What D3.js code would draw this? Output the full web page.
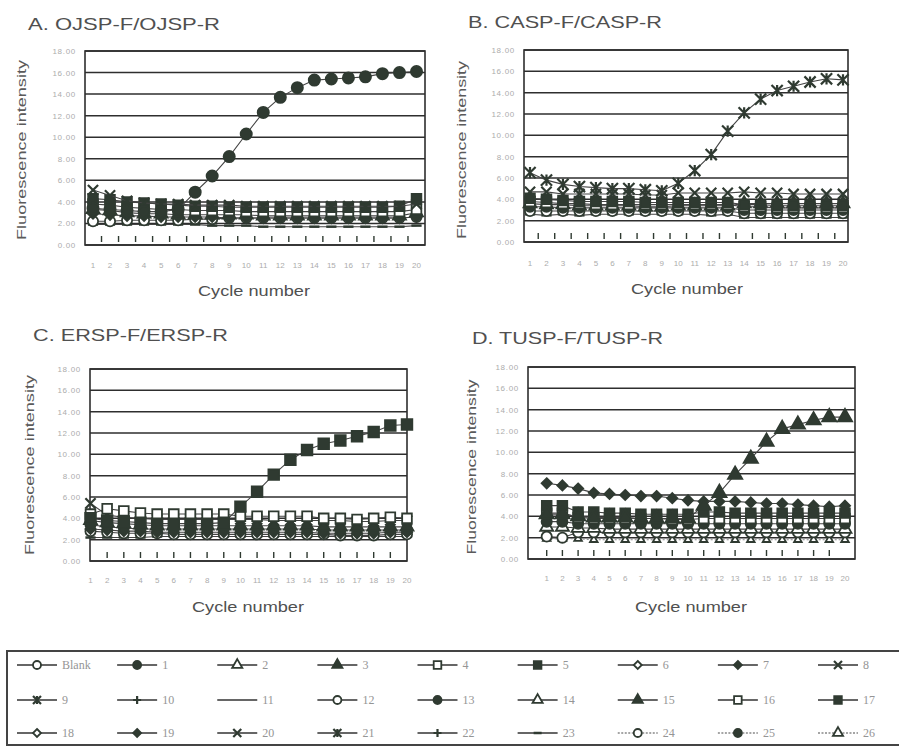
<!DOCTYPE html>
<html>
<head>
<meta charset="utf-8">
<script src="https://cdn.jsdelivr.net/npm/d3@7"></script>
<style>
  body { margin: 0; background: #fff; }
  svg { display: block; font-family: "Liberation Sans", Arial, sans-serif; }
</style>
</head>
<body>
<svg id="viz" width="899" height="746"></svg>
<script>
// ---- data ----
const cycles = [1, 2, 3, 4, 5, 6, 7, 8, 9, 10, 11, 12, 13, 14, 15, 16, 17, 18, 19, 20];
const yTickValues = [0, 2, 4, 6, 8, 10, 12, 14, 16, 18];

const legendLabels = ["Blank", "1", "2", "3", "4", "5", "6", "7", "8", "9", "10", "11", "12", "13",
  "14", "15", "16", "17", "18", "19", "20", "21", "22", "23", "24", "25", "26"];
const legendMarkers = ["circleOpen", "circle", "triOpen", "tri", "squareOpen", "square", "diamondOpen", "diamond", "x",
  "star", "plus", "none", "circleOpen", "circle", "triOpen", "tri", "squareOpen", "square",
  "diamondOpen", "diamond", "x", "star", "plus", "dash", "circleOpen", "circle", "triOpen"];
const dottedSeries = ["24", "25", "26"];

// A. OJSP-F/OJSP-R
const ojsp1 = [3.4, 3.3, 3.2, 3.1, 3.1, 3.3, 4.9, 6.4, 8.2, 10.3, 12.3, 13.7, 14.6, 15.3, 15.4, 15.5, 15.6, 15.9, 16.0, 16.1];
const ojsp8 = [5.1, 4.6, 4.1, 3.9, 3.8, 3.8, 3.7, 3.7, 3.7, 3.6, 3.6, 3.6, 3.6, 3.6, 3.6, 3.6, 3.6, 3.6, 3.6, 3.8];
const ojsp5 = [4.3, 4.2, 4.0, 3.9, 3.8, 3.7, 3.6, 3.6, 3.5, 3.5, 3.5, 3.5, 3.5, 3.5, 3.5, 3.5, 3.5, 3.5, 3.6, 4.3];
const ojsp4 = [3.8, 3.7, 3.5, 3.4, 3.3, 3.3, 3.2, 3.2, 3.2, 3.1, 3.1, 3.1, 3.1, 3.1, 3.1, 3.1, 3.1, 3.1, 3.1, 3.3];
const ojsp3 = [3.3, 3.2, 3.0, 2.9, 2.9, 2.8, 2.8, 2.8, 2.8, 2.8, 2.7, 2.7, 2.7, 2.7, 2.7, 2.7, 2.7, 2.7, 2.7, 3.0];
const ojsp7 = [2.9, 2.8, 2.7, 2.7, 2.6, 2.6, 2.6, 2.6, 2.5, 2.5, 2.5, 2.5, 2.5, 2.5, 2.5, 2.5, 2.5, 2.5, 2.5, 2.6];
const ojspBlank = [2.2, 2.2, 2.3, 2.3, 2.3, 2.3, 2.4, 2.4, 2.5, 2.5, 2.5, 2.5, 2.5, 2.5, 2.5, 2.5, 2.5, 2.5, 2.5, 2.6];
const ojsp23 = [1.9, 1.9, 1.9, 1.9, 1.9, 1.9, 1.9, 1.8, 1.8, 1.8, 1.7, 1.7, 1.7, 1.7, 1.7, 1.7, 1.7, 1.7, 1.7, 1.8];

// B. CASP-F/CASP-R
const casp9 = [6.5, 5.8, 5.4, 5.2, 5.1, 5.0, 5.0, 4.9, 4.8, 5.5, 6.7, 8.2, 10.4, 12.1, 13.4, 14.2, 14.6, 15.0, 15.3, 15.2];
const casp20 = [4.7, 4.7, 4.5, 4.5, 4.5, 4.5, 4.5, 4.4, 4.4, 4.6, 4.6, 4.6, 4.6, 4.7, 4.6, 4.6, 4.5, 4.5, 4.5, 4.5];
const casp17 = [4.1, 4.0, 3.9, 3.8, 3.8, 3.8, 3.8, 3.7, 3.7, 3.7, 3.7, 3.7, 3.7, 3.5, 3.5, 3.4, 3.4, 3.4, 3.4, 3.4];
const casp16 = [3.8, 3.7, 3.6, 3.6, 3.5, 3.5, 3.5, 3.5, 3.5, 3.5, 3.5, 3.5, 3.5, 3.3, 3.3, 3.2, 3.2, 3.2, 3.2, 3.2];
const casp15 = [3.6, 3.5, 3.5, 3.4, 3.4, 3.4, 3.4, 3.3, 3.3, 3.4, 3.4, 3.4, 3.4, 3.6, 3.6, 3.6, 3.6, 3.6, 3.6, 3.6];
const casp13 = [3.3, 3.3, 3.2, 3.2, 3.2, 3.2, 3.2, 3.2, 3.2, 3.2, 3.2, 3.2, 3.2, 3.0, 3.0, 3.0, 3.0, 3.0, 3.0, 3.0];
const caspBlank = [2.9, 2.9, 2.9, 2.9, 2.9, 2.9, 2.9, 2.9, 2.9, 2.9, 2.9, 2.9, 2.9, 2.7, 2.7, 2.7, 2.7, 2.7, 2.7, 2.7];
const casp23 = [2.6, 2.5, 2.6, 2.5, 2.6, 2.6, 2.6, 2.6, 2.6, 2.6, 2.6, 2.5, 2.6, 2.3, 2.3, 2.3, 2.3, 2.3, 2.3, 2.3];

// C. ERSP-F/ERSP-R
const ersp17 = [4.0, 3.8, 3.7, 3.6, 3.5, 3.5, 3.5, 3.5, 3.6, 5.1, 6.5, 8.1, 9.5, 10.4, 11.0, 11.3, 11.7, 12.1, 12.7, 12.8];
const ersp16 = [4.4, 4.9, 4.7, 4.5, 4.4, 4.4, 4.4, 4.4, 4.4, 4.2, 4.2, 4.2, 4.2, 4.2, 4.0, 4.0, 3.9, 4.0, 4.1, 4.0];
const ersp20 = [5.4, 4.3, 4.1, 4.0, 3.9, 3.9, 3.9, 3.9, 3.9, 3.9, 3.9, 3.8, 3.8, 3.8, 3.8, 3.8, 3.7, 3.7, 3.8, 3.8];
const ersp15 = [3.8, 3.6, 3.5, 3.4, 3.3, 3.3, 3.3, 3.3, 3.3, 3.3, 3.3, 3.3, 3.3, 3.3, 3.2, 3.2, 3.2, 3.2, 3.2, 3.2];
const ersp13 = [3.4, 3.2, 3.1, 3.0, 3.0, 3.0, 3.0, 3.0, 3.0, 3.0, 3.0, 3.0, 3.0, 3.0, 2.9, 2.9, 2.9, 2.9, 2.9, 2.9];
const ersp19 = [3.0, 2.9, 2.8, 2.8, 2.7, 2.7, 2.7, 2.7, 2.7, 2.7, 2.7, 2.7, 2.7, 2.7, 2.6, 2.6, 2.6, 2.6, 2.7, 2.7];
const erspBlank = [2.8, 2.7, 2.6, 2.6, 2.6, 2.5, 2.5, 2.5, 2.5, 2.5, 2.5, 2.5, 2.5, 2.5, 2.5, 2.4, 2.4, 2.4, 2.5, 2.5];
const ersp23 = [2.2, 2.2, 2.2, 2.2, 2.3, 2.3, 2.3, 2.3, 2.3, 2.3, 2.3, 2.3, 2.3, 2.3, 2.3, 2.3, 2.3, 2.3, 2.3, 2.3];

// D. TUSP-F/TUSP-R
const tusp15 = [4.2, 4.2, 4.0, 3.9, 3.9, 3.9, 3.8, 3.8, 3.8, 3.8, 5.0, 6.2, 7.9, 9.4, 11.0, 12.2, 12.6, 13.0, 13.3, 13.3];
const tusp19 = [7.1, 6.9, 6.6, 6.2, 6.1, 6.0, 5.9, 5.9, 5.7, 5.5, 5.4, 5.4, 5.4, 5.3, 5.2, 5.2, 5.1, 5.0, 4.9, 5.0];
const tusp17 = [5.0, 5.0, 4.4, 4.4, 4.3, 4.3, 4.2, 4.2, 4.2, 4.2, 4.4, 4.4, 4.3, 4.3, 4.3, 4.3, 4.3, 4.3, 4.3, 4.3];
const tusp16 = [4.3, 4.3, 3.9, 3.8, 3.8, 3.8, 3.8, 3.8, 3.7, 3.7, 3.8, 3.8, 3.8, 3.8, 3.8, 3.8, 3.8, 3.8, 3.8, 3.8];
const tusp13 = [3.5, 3.5, 3.3, 3.3, 3.3, 3.3, 3.3, 3.3, 3.3, 3.3, 3.3, 3.3, 3.3, 3.3, 3.3, 3.3, 3.3, 3.3, 3.3, 3.3];
const tusp14 = [3.0, 3.0, 2.9, 2.9, 2.8, 2.8, 2.8, 2.8, 2.8, 2.8, 2.8, 2.8, 2.8, 2.8, 2.8, 2.8, 2.8, 2.8, 2.8, 2.8];
const tuspBlank = [2.1, 2.0, 2.5, 2.5, 2.5, 2.5, 2.5, 2.5, 2.5, 2.5, 2.5, 2.5, 2.5, 2.5, 2.5, 2.5, 2.5, 2.5, 2.5, 2.5];
const tusp26 = [1.9, 1.9, 1.9, 1.8, 1.8, 1.8, 1.8, 1.8, 1.8, 1.8, 1.8, 1.8, 1.8, 1.8, 1.8, 1.8, 1.8, 1.8, 1.8, 1.8];

// ---- layout ----
const MARK = "#2f3a31";
const GRID = "#2e2e2e";

const panels = [
  {
    title: "A. OJSP-F/OJSP-R", titleX: 28, titleY: 30, titleW: 192,
    left: 85, right: 425, top: 51, bottom: 245, xFirst: 93, xLast: 416.5,
    tickCycles: cycles.slice(0, 19), tickShift: 0.5,
    ylabX: 26, ylabY: 150, ylabW: 180, xTickY: 268, xlabX: 254, xlabY: 296,
    series: [["23", ojsp23], ["Blank", ojspBlank], ["7", ojsp7], ["3", ojsp3], ["4", ojsp4], ["5", ojsp5], ["8", ojsp8], ["1", ojsp1]]
  },
  {
    title: "B. CASP-F/CASP-R", titleX: 468, titleY: 28, titleW: 194,
    left: 524, right: 848, top: 50, bottom: 242, xFirst: 530, xLast: 843,
    tickCycles: cycles.slice(0, 19), tickShift: 0.5,
    ylabX: 466, ylabY: 150, ylabW: 178, xTickY: 266, xlabX: 687, xlabY: 294,
    series: [["23", casp23], ["Blank", caspBlank], ["13", casp13], ["15", casp15], ["16", casp16], ["17", casp17], ["20", casp20], ["9", casp9]]
  },
  {
    title: "C. ERSP-F/ERSP-R", titleX: 33, titleY: 341, titleW: 195,
    left: 90, right: 407, top: 369, bottom: 561, xFirst: 90.5, xLast: 407,
    tickCycles: cycles.slice(1, 19), tickShift: 0,
    ylabX: 34, ylabY: 465, ylabW: 180, xTickY: 583, xlabX: 248, xlabY: 612,
    series: [["23", ersp23], ["Blank", erspBlank], ["19", ersp19], ["13", ersp13], ["15", ersp15], ["20", ersp20], ["16", ersp16], ["17", ersp17]]
  },
  {
    title: "D. TUSP-F/TUSP-R", titleX: 472, titleY: 344, titleW: 191,
    left: 528, right: 855, top: 367, bottom: 559, xFirst: 546.7, xLast: 845,
    tickCycles: cycles.slice(0, 19), tickShift: 0,
    ylabX: 476, ylabY: 467, ylabW: 175, xTickY: 581, xlabX: 691, xlabY: 612,
    series: [["26", tusp26], ["Blank", tuspBlank], ["14", tusp14], ["13", tusp13], ["16", tusp16], ["17", tusp17], ["19", tusp19], ["15", tusp15]]
  }
];

const svg = d3.select("#viz");

const markerOf = key => legendMarkers[legendLabels.indexOf(key)];

// path for one marker shape, r = half width
const markerPath = (type, r) => {
  switch (type) {
    case "circle": case "circleOpen": return d3.symbol(d3.symbolCircle, Math.PI * r * r)();
    case "square": case "squareOpen": return d3.symbol(d3.symbolSquare, 3.6 * r * r)();
    case "tri": case "triOpen": return d3.symbol(d3.symbolTriangle, 2.8 * r * r)();
    case "diamond": case "diamondOpen": return `M0,${-r}L${r},0L0,${r}L${-r},0Z`;
    case "x": return `M${-r},${-r}L${r},${r}M${-r},${r}L${r},${-r}`;
    case "star": return `M${-r},${-r}L${r},${r}M${-r},${r}L${r},${-r}M0,${-r}V${r}`;
    case "plus": return `M${-r},0H${r}M0,${-r}V${r}`;
    case "dash": return `M${-r},0H${r}`;
    default: return null;
  }
};

const styleMarker = (sel, type) => {
  const strokeOnly = ["x", "star", "plus", "dash"].includes(type);
  sel.attr("fill", strokeOnly ? "none" : (type.endsWith("Open") ? "#fff" : MARK))
    .attr("stroke", MARK)
    .attr("stroke-width", strokeOnly ? (type === "dash" ? 2.5 : 2.2) : 1.8);
};

function drawPanel(p) {
  const g = svg.append("g");
  const x = d3.scaleLinear().domain([1, 20]).range([p.xFirst, p.xLast]);
  const y = d3.scaleLinear().domain([0, 18]).range([p.bottom, p.top]);

  g.append("text")
    .attr("x", p.titleX).attr("y", p.titleY)
    .attr("font-size", 17).attr("fill", "#505050")
    .attr("textLength", p.titleW).attr("lengthAdjust", "spacingAndGlyphs")
    .text(p.title);

  // horizontal gridlines
  g.selectAll(".grid").data(yTickValues).join("line")
    .attr("x1", p.left).attr("x2", p.right)
    .attr("y1", d => y(d)).attr("y2", d => y(d))
    .attr("stroke", GRID).attr("stroke-width", 1.5);

  g.append("rect")
    .attr("x", p.left).attr("y", p.top)
    .attr("width", p.right - p.left).attr("height", p.bottom - p.top)
    .attr("fill", "none").attr("stroke", GRID).attr("stroke-width", 1.6);

  // small category tick marks just above the axis
  g.selectAll(".ctick").data(p.tickCycles).join("line")
    .attr("x1", d => x(d + p.tickShift)).attr("x2", d => x(d + p.tickShift))
    .attr("y1", p.bottom - 9).attr("y2", p.bottom - 3)
    .attr("stroke", MARK).attr("stroke-width", 1.4);

  // y tick labels
  g.selectAll(".ylab").data(yTickValues).join("text")
    .attr("x", p.left - 9).attr("y", d => y(d) + 3)
    .attr("text-anchor", "end").attr("font-size", 8).attr("fill", "#acacac")
    .style("letter-spacing", "0.7px")
    .text(d => d3.format(".2f")(d));

  // x tick labels
  g.selectAll(".xlab").data(cycles).join("text")
    .attr("x", d => x(d)).attr("y", p.xTickY)
    .attr("text-anchor", "middle").attr("font-size", 8).attr("fill", "#acacac")
    .text(d => d);

  g.append("text")
    .attr("transform", `translate(${p.ylabX},${p.ylabY}) rotate(-90)`)
    .attr("text-anchor", "middle").attr("font-size", 13).attr("fill", "#5a5a5a")
    .attr("textLength", p.ylabW).attr("lengthAdjust", "spacingAndGlyphs")
    .text("Fluorescence intensity");

  g.append("text")
    .attr("x", p.xlabX).attr("y", p.xlabY)
    .attr("text-anchor", "middle").attr("font-size", 15).attr("fill", "#505050")
    .attr("textLength", 112).attr("lengthAdjust", "spacingAndGlyphs")
    .text("Cycle number");

  const line = d3.line().x((d, i) => x(cycles[i])).y(d => y(d));
  const lastKey = p.series[p.series.length - 1][0];

  p.series.forEach(([key, values]) => {
    const type = markerOf(key);
    const dotted = dottedSeries.includes(key);
    g.append("path")
      .attr("d", line(values))
      .attr("fill", "none")
      .attr("stroke", dotted ? "#888" : "#444")
      .attr("stroke-width", 1.1)
      .attr("stroke-dasharray", dotted ? "2,2" : null);
    if (type === "none") return;
    const r = key === "26" ? 3 : (key === lastKey ? 5.6 : 5.1);
    g.append("g").selectAll("path").data(values).join("path")
      .attr("transform", (d, i) => `translate(${x(cycles[i])},${y(d)})`)
      .attr("d", markerPath(type, r))
      .call(styleMarker, type);
  });
}

panels.forEach(drawPanel);

// ---- legend ----
const legendRows = [665, 700, 733];
const legendX = d3.scaleLinear().domain([0, 8]).range([17, 818]);

svg.append("rect")
  .attr("x", 7).attr("y", 651).attr("width", 900).attr("height", 94)
  .attr("fill", "none").attr("stroke", "#444").attr("stroke-width", 2);

const items = svg.append("g").selectAll("g").data(legendLabels).join("g")
  .attr("transform", (d, i) => `translate(${legendX(i % 9)},${legendRows[Math.floor(i / 9)]})`);

items.append("line")
  .attr("x1", 0).attr("x2", 40).attr("y1", 0).attr("y2", 0)
  .attr("stroke", d => dottedSeries.includes(d) ? "#888" : "#333")
  .attr("stroke-width", 1.5)
  .attr("stroke-dasharray", d => dottedSeries.includes(d) ? "2,1.5" : null);

items.each(function (d, i) {
  const type = legendMarkers[i];
  if (type === "none") return;
  d3.select(this).append("path")
    .attr("transform", "translate(20,0)")
    .attr("d", markerPath(type, 4))
    .call(styleMarker, type);
});

items.append("text")
  .attr("x", 45).attr("y", 4)
  .attr("font-family", "'Liberation Serif', 'Times New Roman', serif")
  .attr("font-size", 12).attr("fill", "#959595")
  .text(d => d);
</script>
</body>
</html>
